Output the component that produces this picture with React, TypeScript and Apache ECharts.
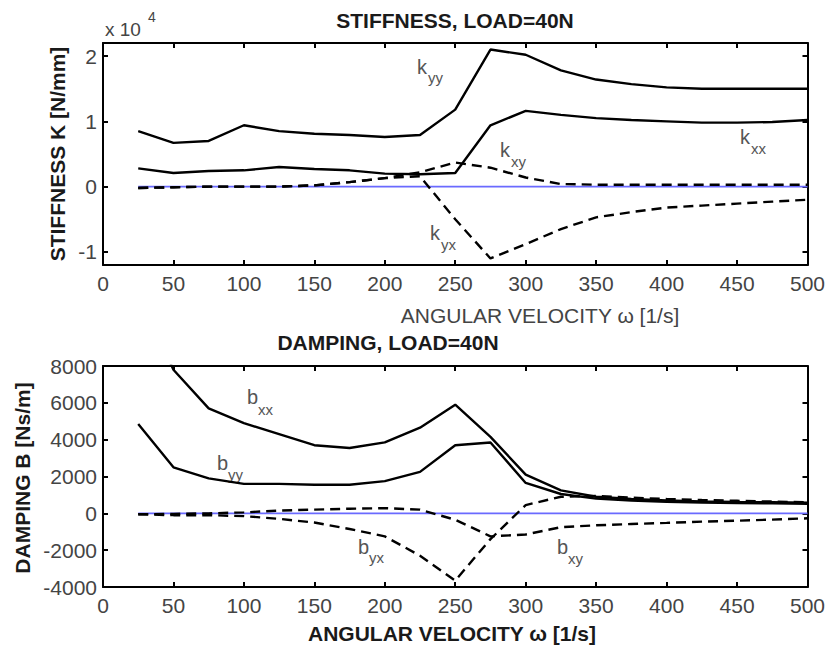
import React, { useEffect, useRef } from "react";
import * as echarts from "echarts";

// angular velocity ω [1/s]
const omega = [25, 50, 75, 100, 125, 150, 175, 200, 225, 250, 275, 300, 325, 350, 375, 400, 425, 450, 475, 500];

// stiffness K [N/mm]
const kyy = [8500, 6700, 7000, 9400, 8500, 8100, 7900, 7600, 7900, 11800, 21000, 20200, 17800, 16400, 15700, 15200, 15000, 15000, 15000, 15000];
const kxx = [2800, 2100, 2400, 2500, 3000, 2700, 2500, 2000, 1900, 2100, 9400, 11600, 11000, 10500, 10200, 10000, 9800, 9800, 9900, 10200];
const kxy = [-200, -100, 0, 0, 0, 200, 700, 1300, 2200, 3700, 2900, 1400, 400, 300, 300, 300, 300, 300, 300, 300];
const kyx = [-200, -100, 0, 0, 0, 200, 700, 1300, 1600, -5000, -11000, -8800, -6500, -4700, -3900, -3200, -2900, -2600, -2300, -2000];

// damping B [Ns/m]
const bxx = [12000, 7800, 5700, 4900, 4300, 3700, 3550, 3850, 4650, 5900, 4150, 2100, 1250, 900, 780, 700, 650, 620, 600, 580];
const byy = [4850, 2500, 1900, 1600, 1600, 1550, 1550, 1750, 2250, 3700, 3850, 1650, 1050, 800, 700, 620, 580, 560, 540, 520];
const byx = [-50, -100, -100, -150, -300, -500, -850, -1250, -2300, -3650, -1400, 450, 900, 950, 850, 780, 720, 680, 640, 600];
const bxy = [-50, -30, 0, 50, 150, 200, 250, 280, 200, -350, -1250, -1150, -750, -650, -580, -520, -450, -400, -340, -270];

const zeroLine = omega.map(() => 0);

const kTicks = [-10000, 0, 10000, 20000];

const FONT = "Liberation Sans, Arial, Helvetica, sans-serif";
const LABEL_COLOR = "#444";

const pairs = (ys: number[]) => omega.map((x, i) => [x, ys[i]]);

export default function App() {
  const ref = useRef<HTMLDivElement>(null);

  useEffect(() => {
    const chart = echarts.init(ref.current!, null, { renderer: "svg" });

    const axisLine = { show: true, onZero: false, lineStyle: { color: "#000", width: 2 } };
    const tick = { show: true, inside: true, length: 5, lineStyle: { color: "#000", width: 2 } };
    const lbl = { color: LABEL_COLOR, fontSize: 21, fontFamily: FONT };

    const xAx = (grid: number, pos: string, showLabel: boolean) => ({
      type: "value",
      gridIndex: grid,
      position: pos,
      min: 0,
      max: 500,
      interval: 50,
      axisLine,
      axisTick: tick,
      axisLabel: { ...lbl, show: showLabel, margin: 8, formatter: (v: number) => String(v) },
      splitLine: { show: false },
    });

    const yTop = (pos: string, showLabel: boolean) => ({
      type: "value",
      gridIndex: 0,
      position: pos,
      min: -12000,
      max: 22000,
      axisLine,
      axisTick: { ...tick, customValues: kTicks },
      axisLabel: {
        ...lbl,
        show: showLabel,
        margin: 6,
        customValues: kTicks,
        formatter: (v: number) => String(Math.round(v / 10000)),
      },
      splitLine: { show: false },
    });

    const yBot = (pos: string, showLabel: boolean) => ({
      type: "value",
      gridIndex: 1,
      position: pos,
      min: -4000,
      max: 8000,
      interval: 2000,
      axisLine,
      axisTick: tick,
      axisLabel: { ...lbl, show: showLabel, margin: 6, formatter: (v: number) => String(v) },
      splitLine: { show: false },
    });

    const line = (name: string, ys: number[], xi: number, yi: number, dashed: boolean, z = 3) => ({
      name,
      type: "line",
      xAxisIndex: xi,
      yAxisIndex: yi,
      data: pairs(ys),
      symbol: "none",
      clip: true,
      z,
      lineStyle: { color: "#000", width: 2.4, type: dashed ? [10, 6] : "solid" },
    });

    const blue = (xi: number, yi: number) => ({
      name: "zero",
      type: "line",
      xAxisIndex: xi,
      yAxisIndex: yi,
      data: pairs(zeroLine),
      symbol: "none",
      z: 2,
      lineStyle: { color: "#6a6aff", width: 1.6 },
    });

    const txt = (x: number, y: number, text: string, opts: any = {}) => ({
      type: "text",
      x,
      y,
      rotation: opts.rotation || 0,
      style: {
        text,
        fill: opts.fill || LABEL_COLOR,
        font: `${opts.bold ? "bold " : ""}${opts.size || 21}px ${FONT}`,
        textAlign: opts.align || "left",
        textVerticalAlign: "middle",
      },
    });

    const seriesLabel = (x: number, y: number, main: string, sub: string, sx: number, sy: number) => [
      txt(x, y, main, { size: 20, fill: "#555" }),
      txt(sx, sy, sub, { size: 15, fill: "#555" }),
    ];

    const option: any = {
      animation: false,
      backgroundColor: "#fff",
      grid: [
        { left: 103, top: 43, width: 709, height: 222 },
        { left: 103, top: 366, width: 709, height: 221 },
      ],
      xAxis: [xAx(0, "bottom", true), xAx(0, "top", false), xAx(1, "bottom", true), xAx(1, "top", false)],
      yAxis: [yTop("left", true), yTop("right", false), yBot("left", true), yBot("right", false)],
      series: [
        blue(0, 0),
        line("kyy", kyy, 0, 0, false),
        line("kxx", kxx, 0, 0, false),
        line("kxy", kxy, 0, 0, true),
        line("kyx", kyx, 0, 0, true),
        blue(2, 2),
        line("bxx", bxx, 2, 2, false),
        line("byy", byy, 2, 2, false),
        line("byx", byx, 2, 2, true),
        line("bxy", bxy, 2, 2, true),
      ],
      graphic: [
        txt(455, 20, "STIFFNESS, LOAD=40N", { bold: true, fill: "#1a1a1a", align: "center" }),
        txt(105, 29, "x 10", { size: 19 }),
        txt(148, 17, "4", { size: 14 }),
        txt(57, 154, "STIFFNESS K [N/mm]", { bold: true, fill: "#1a1a1a", align: "center", rotation: Math.PI / 2 }),
        txt(540, 315, "ANGULAR VELOCITY ω [1/s]", { align: "center" }),
        txt(388, 342, "DAMPING, LOAD=40N", { bold: true, fill: "#1a1a1a", align: "center" }),
        txt(22, 478, "DAMPING B [Ns/m]", { bold: true, fill: "#1a1a1a", align: "center", rotation: Math.PI / 2 }),
        txt(452, 633, "ANGULAR VELOCITY ω [1/s]", { bold: true, fill: "#1a1a1a", align: "center" }),
        ...seriesLabel(417, 67, "k", "yy", 428, 77),
        ...seriesLabel(740, 137, "k", "xx", 751, 148),
        ...seriesLabel(500, 150, "k", "xy", 511, 161),
        ...seriesLabel(430, 233, "k", "yx", 441, 244),
        ...seriesLabel(247, 397, "b", "xx", 258, 409),
        ...seriesLabel(217, 463, "b", "yy", 228, 474),
        ...seriesLabel(358, 547, "b", "yx", 369, 557),
        ...seriesLabel(557, 547, "b", "xy", 568, 558),
      ],
    };

    chart.setOption(option);
    return () => chart.dispose();
  }, []);

  return <div ref={ref} style={{ position: "fixed", left: 0, top: 0, width: 828, height: 650 }} />;
}
